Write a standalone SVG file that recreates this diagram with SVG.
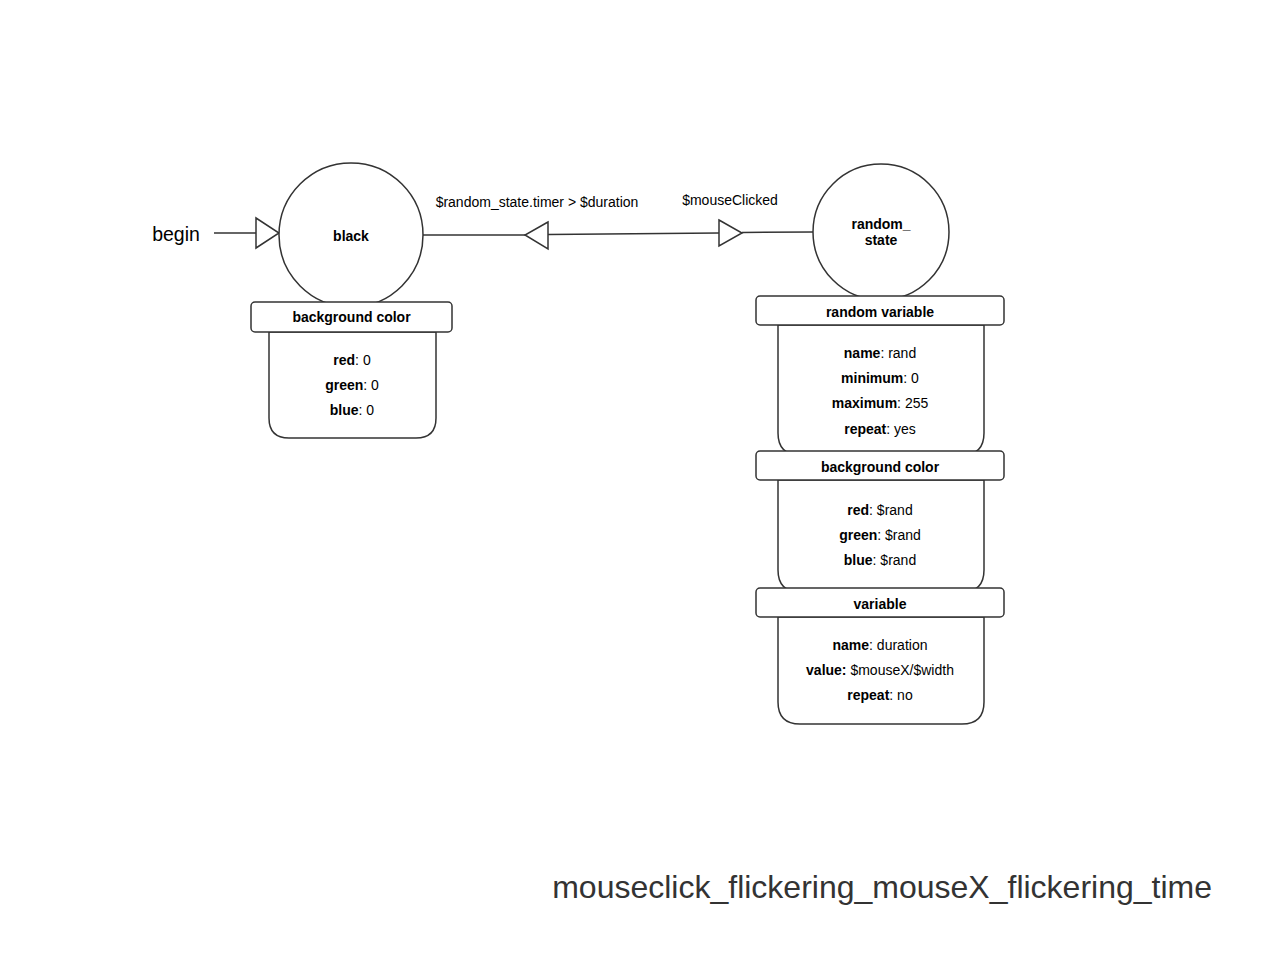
<svg xmlns="http://www.w3.org/2000/svg" width="1280" height="960" viewBox="0 0 1280 960">
<style>
.s{fill:#fff;stroke:#333;stroke-width:1.5}
.l{fill:none;stroke:#333;stroke-width:1.5}
text{font-family:"Liberation Sans",Arial,sans-serif;fill:#000}
.t{font-size:14px;text-anchor:middle}
.b{font-weight:bold}
.h{font-size:14px;font-weight:bold;text-anchor:middle}
</style>
<rect width="1280" height="960" fill="#fff"/>
<g id="connectors">
<line class="l" x1="214" y1="233" x2="256" y2="233"/>
<polygon class="s" points="256,218 279,233 256,248"/>
<line class="l" x1="423" y1="235" x2="525" y2="235"/>
<line class="l" x1="548" y1="234.5" x2="719" y2="233"/>
<line class="l" x1="742" y1="232.5" x2="813" y2="232"/>
<polygon class="s" points="548,222 525,235 548,249"/>
<polygon class="s" points="719,220 742,233 719,246"/>
<text x="176" y="241" style="font-size:19.5px;text-anchor:middle">begin</text>
<text x="537" y="207" class="t">$random_state.timer &gt; $duration</text>
<text x="730" y="205" class="t">$mouseClicked</text>
</g>
<g id="black">
<circle class="s" cx="351" cy="235" r="72"/>
<text x="351" y="241" class="h">black</text>
</g>
<g id="black_bg">
<path class="s" d="M269,332 V418 Q269,438 289,438 H416 Q436,438 436,418 V332 Z"/>
<rect class="s" x="251" y="302" width="201" height="30" rx="4"/>
<text x="351.5" y="322" class="h">background color</text>
<text x="352" y="365" class="t"><tspan class="b">red</tspan>: 0</text>
<text x="352" y="390" class="t"><tspan class="b">green</tspan>: 0</text>
<text x="352" y="415" class="t"><tspan class="b">blue</tspan>: 0</text>
</g>
<g id="random_state">
<circle class="s" cx="881" cy="232" r="68"/>
<text x="881" y="229" class="h">random_</text>
<text x="881" y="245" class="h">state</text>
</g>
<g id="random_variable">
<path class="s" d="M778,325 V433 Q778,455 800,455 H962 Q984,455 984,433 V325 Z"/>
<rect class="s" x="756" y="296" width="248" height="29" rx="4"/>
<text x="880" y="317" class="h">random variable</text>
<text x="880" y="358" class="t"><tspan class="b">name</tspan>: rand</text>
<text x="880" y="383" class="t"><tspan class="b">minimum</tspan>: 0</text>
<text x="880" y="408" class="t"><tspan class="b">maximum</tspan>: 255</text>
<text x="880" y="434" class="t"><tspan class="b">repeat</tspan>: yes</text>
</g>
<g id="random_bg">
<path class="s" d="M778,480 V570 Q778,592 800,592 H962 Q984,592 984,570 V480 Z"/>
<rect class="s" x="756" y="451" width="248" height="29" rx="4"/>
<text x="880" y="472" class="h">background color</text>
<text x="880" y="515" class="t"><tspan class="b">red</tspan>: $rand</text>
<text x="880" y="540" class="t"><tspan class="b">green</tspan>: $rand</text>
<text x="880" y="565" class="t"><tspan class="b">blue</tspan>: $rand</text>
</g>
<g id="variable">
<path class="s" d="M778,617 V702 Q778,724 800,724 H962 Q984,724 984,702 V617 Z"/>
<rect class="s" x="756" y="588" width="248" height="29" rx="4"/>
<text x="880" y="609" class="h">variable</text>
<text x="880" y="650" class="t"><tspan class="b">name</tspan>: duration</text>
<text x="880" y="675" class="t"><tspan class="b">value:</tspan> $mouseX/$width</text>
<text x="880" y="700" class="t"><tspan class="b">repeat</tspan>: no</text>
</g>
<text x="1212" y="898" style="font-size:32px;text-anchor:end;fill:#333">mouseclick_flickering_mouseX_flickering_time</text>
</svg>
